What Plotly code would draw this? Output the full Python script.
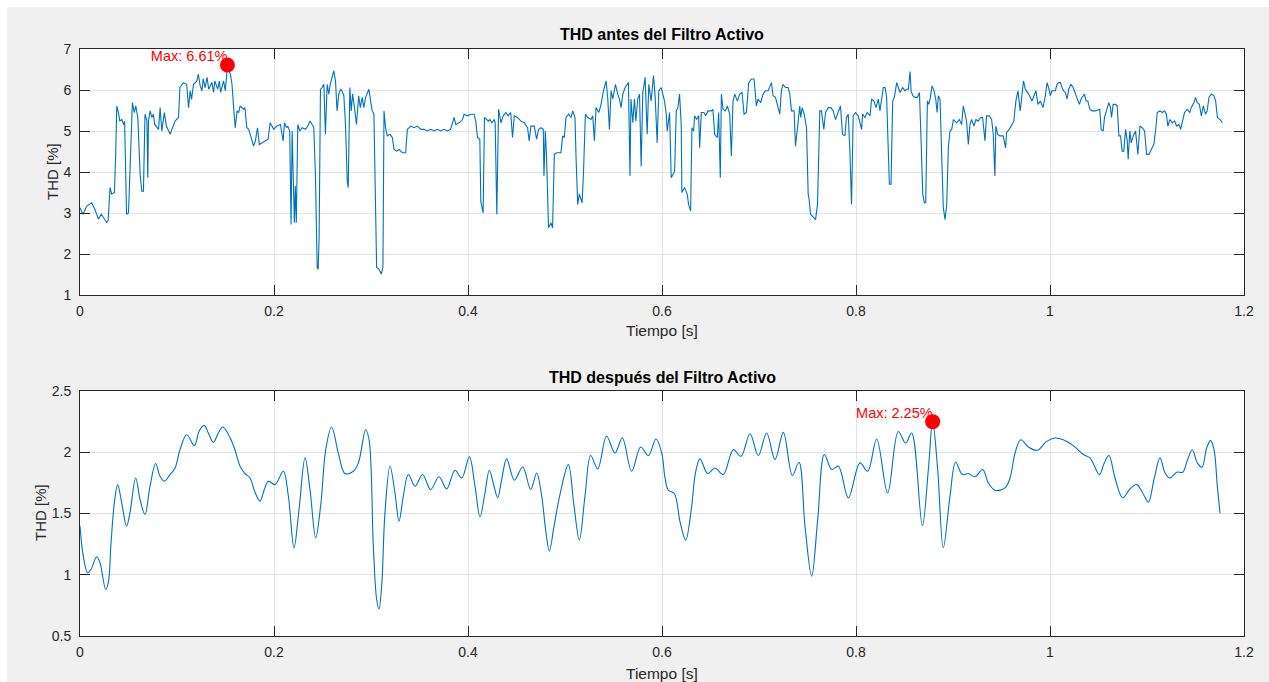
import numpy as np
import plotly.graph_objects as go
from plotly.subplots import make_subplots

# ---------------- data: THD before the active filter ----------------
t_antes = [
 0.000,0.003,0.007,0.012,0.0155,0.019,0.022,0.0275,0.029,0.031,0.0327,0.0355,0.0368,0.0379,0.0396,0.041,0.043,0.045,0.046,0.047,
 0.048,0.050,0.0517,0.054,0.056,0.0575,0.0596,0.062,0.0637,0.0654,0.067,0.069,0.0699,0.0706,0.0723,0.074,0.0757,0.077,0.081,0.0826,
 0.0843,0.087,0.089,0.091,0.093,0.0947,0.098,0.1016,0.103,0.1067,0.110,0.1119,0.1136,0.115,0.117,0.1205,0.122,0.1239,0.1257,0.127,
 0.129,0.131,0.1326,0.136,0.1377,0.139,0.142,0.1436,0.145,0.148,0.1498,0.152,0.1533,0.155,0.1567,0.1584,0.160,0.162,0.1636,0.165,
 0.1687,0.170,0.172,0.1739,0.1766,0.179,0.1808,0.183,0.1849,0.1877,0.191,0.1939,0.196,0.1997,
 0.203,0.2066,0.2094,0.2108,0.213,0.2142,0.2162,0.2176,0.2187,0.2197,0.221,0.222,0.223,0.2245,0.2266,0.229,0.2325,0.2349,0.237,0.2393,
 0.241,0.2427,0.2445,0.2455,0.2465,0.2479,0.2496,0.2514,0.253,0.2548,0.2565,0.258,0.260,0.2617,0.2634,0.265,0.2668,0.2686,0.270,0.272,
 0.2737,0.2755,0.2765,0.2782,0.2796,0.281,0.283,0.285,0.2873,0.289,0.2909,0.2926,0.2944,0.2978,0.2996,0.3013,0.303,0.3058,0.3082,0.3106,
 0.3123,0.3134,0.315,0.3168,0.3195,0.322,0.3237,0.3264,0.3289,0.3323,0.3357,0.3375,0.341,0.3444,0.3478,0.3513,0.3547,0.358,0.3616,0.365,
 0.3685,0.372,0.3753,0.3788,0.382,0.3857,0.3874,0.391,0.3943,0.396,0.3994,0.403,
 0.4063,0.408,0.4098,0.4122,0.4132,0.4156,0.417,0.4191,0.421,0.4225,0.4246,0.427,0.428,0.4297,0.4315,0.434,0.4363,0.439,0.4415,0.444,
 0.4459,0.4477,0.451,0.4545,0.458,0.4614,0.4631,0.4649,0.4683,0.4707,0.4728,0.4752,0.4776,0.4783,0.4797,0.481,0.483,0.4855,0.4872,0.489,
 0.4914,0.4958,0.4976,0.4993,0.501,0.5038,0.5062,0.508,0.5103,0.5114,0.5131,0.5148,0.5176,0.519,0.521,0.5234,0.5268,0.5286,0.5303,0.532,
 0.5348,0.5372,0.5396,0.5424,0.5441,0.5458,0.5475,0.5493,0.552,0.5544,0.5561,0.5578,0.5596,0.562,0.5654,0.567,0.568,0.5699,0.5716,0.573,
 0.575,0.5768,0.5785,0.5802,0.5826,0.5847,0.5864,0.5888,0.5912,0.593,0.595,0.5967,0.5992,0.6026,0.6044,
 0.6054,0.6078,0.6095,0.6116,0.613,0.6147,0.6164,0.6181,0.6198,0.6205,0.6233,0.626,0.6274,0.6295,0.6309,0.6326,0.6336,0.6357,0.6378,0.6388,
 0.6405,0.6432,0.645,0.6474,0.6508,0.6525,0.6543,0.657,0.6584,0.6601,0.6612,0.6629,0.6653,0.6674,0.6698,0.6715,0.6732,0.675,0.6777,0.680,
 0.6825,0.6846,0.687,0.6894,0.6921,0.6949,0.6973,0.699,0.7018,0.7042,0.7066,0.7094,0.711,0.7128,0.7145,0.717,0.7197,0.7214,0.7231,0.7248,
 0.7273,0.730,0.7317,0.7335,0.7362,0.7376,0.7397,0.742,0.743,0.7445,0.7466,0.749,0.7507,0.7517,0.7531,0.7559,0.7583,0.7603,0.7627,0.7644,
 0.7668,0.7686,0.7713,0.774,0.7765,0.7789,0.7816,0.784,0.7861,0.7885,0.7902,0.792,0.7937,0.7954,0.7971,0.7995,0.8023,0.8058,
 0.8068,0.8092,0.8116,0.8144,0.8161,0.8185,0.8206,0.823,0.8247,0.8264,0.8282,0.830,0.8316,0.8333,0.8344,0.8361,0.8378,0.8395,0.842,0.8437,
 0.8454,0.8481,0.8505,0.8523,0.854,0.8557,0.8568,0.8585,0.861,0.8633,0.8654,0.8671,0.8688,0.8705,0.8719,0.8736,0.875,0.8764,0.8784,0.8805,
 0.8822,0.8836,0.8849,0.8866,0.8883,0.890,0.8918,0.8935,0.8952,0.8969,0.8987,0.9004,0.902,0.9038,0.9065,0.9089,0.9106,0.9123,0.914,0.9158,
 0.9175,0.9192,0.9216,0.9237,0.926,0.9285,0.9305,0.933,0.9346,0.9374,0.9398,0.9415,0.9432,0.9442,0.946,0.9483,0.9518,0.9542,0.9552,0.958,
 0.960,0.9627,0.9648,0.967,0.9693,0.971,0.9727,0.9745,0.978,0.9814,0.9838,0.9855,0.9876,0.990,0.9928,0.9952,0.997,0.9986,1.0004,1.002,
 1.0055,1.0072,
 1.009,1.0107,1.0124,1.014,1.0158,1.0176,1.0193,1.0217,1.0238,1.0262,1.0286,1.0303,1.032,1.034,1.0355,1.0372,1.039,1.041,1.0434,1.0468,
 1.0503,1.0513,1.0527,1.0548,1.0562,1.0582,1.0606,1.0624,1.0634,1.0651,1.0675,1.0693,1.071,1.0727,1.0744,1.0761,1.0779,1.0796,1.0806,1.0823,
 1.0837,1.0858,1.0882,1.0906,1.0927,1.095,1.0975,1.0996,1.102,1.1044,1.107,1.109,1.1105,1.1133,1.1158,1.118,1.120,1.1215,1.1236,1.126,
 1.1284,1.1305,1.133,1.1346,1.1363,1.1387,1.1415,1.144,1.1456,1.1484,1.150,1.1518,1.154,1.156,1.158,1.1604,1.162,1.1639,1.1663,1.169,
 1.1708,1.1725,1.1753,1.1777]
thd_antes = [
 3.13,2.97,3.17,3.25,3.08,2.85,2.97,2.77,2.81,3.62,3.46,3.50,4.43,5.61,5.45,5.24,5.28,5.16,5.24,3.70,
 2.97,3.00,4.02,5.69,5.45,5.61,5.33,3.94,3.53,3.53,5.41,5.24,3.86,5.24,5.49,5.33,5.41,5.16,5.04,5.57,
 5.00,5.45,5.12,5.00,4.92,5.04,5.24,5.33,6.06,6.18,6.14,5.57,5.98,5.77,6.14,6.22,6.39,6.10,5.98,6.27,
 6.06,6.31,6.02,6.18,5.94,6.22,6.02,6.22,5.94,6.22,5.98,6.61,6.47,6.39,6.14,5.57,5.08,5.49,5.45,5.61,
 5.53,5.57,5.08,5.04,4.84,4.63,4.76,5.08,4.67,4.71,4.76,4.80,5.20,5.04,
 5.12,5.16,4.76,5.20,5.08,5.12,5.00,2.72,5.00,3.70,2.76,3.66,2.76,5.16,5.00,5.08,5.04,5.12,5.24,5.16,
 5.08,3.94,1.67,1.63,2.40,6.02,6.06,6.14,4.92,6.14,5.90,6.14,6.31,6.47,6.22,5.49,5.90,6.02,5.98,5.86,
 5.16,3.78,3.62,6.06,5.49,5.90,5.57,5.16,5.86,5.57,5.82,5.57,5.82,6.02,5.73,5.49,5.41,1.67,1.63,1.51,
 1.67,5.49,5.08,4.88,4.92,4.84,4.55,4.51,4.55,4.47,4.47,5.04,5.12,5.08,5.12,5.04,5.04,5.00,5.04,5.00,
 5.04,5.00,5.04,5.00,5.04,5.33,5.16,5.20,5.28,5.41,5.37,5.41,
 5.41,5.24,4.84,4.80,3.29,3.00,5.33,5.28,5.24,5.28,5.20,5.28,5.20,2.97,5.53,5.20,5.37,5.45,5.37,5.45,
 4.84,5.37,5.33,5.24,5.20,5.08,4.76,5.12,5.12,4.80,5.04,5.08,5.04,3.90,5.00,4.35,2.64,2.76,2.64,4.43,
 4.47,4.47,4.88,4.84,5.33,5.41,5.33,5.49,5.33,4.35,3.21,3.46,3.25,3.94,5.41,5.33,5.28,5.37,4.76,5.57,
 5.45,5.65,5.98,6.22,5.78,5.04,5.98,5.78,6.14,5.90,5.78,5.57,5.90,6.06,6.18,3.90,5.78,5.20,5.78,5.24,
 5.78,5.90,4.14,5.94,6.31,4.92,6.14,5.73,6.35,5.82,4.71,5.98,6.06,5.73,5.41,
 5.00,5.45,3.86,3.98,4.02,5.49,5.57,5.90,5.16,3.50,3.62,3.46,3.21,3.05,5.08,5.00,5.37,5.28,5.37,4.59,
 5.45,5.45,5.37,5.49,5.49,5.53,4.92,4.84,5.45,3.86,5.90,5.53,5.49,5.61,5.41,4.39,5.73,5.90,5.73,5.90,
 5.94,5.41,5.45,6.18,6.27,6.27,5.61,5.78,5.69,5.90,5.98,5.98,6.10,6.18,5.86,5.82,5.57,5.41,5.98,6.14,
 6.06,6.06,5.90,5.49,5.49,4.63,5.08,5.61,5.33,5.57,5.41,5.08,3.46,3.33,2.97,2.89,2.84,3.21,5.49,5.49,
 5.04,5.45,5.57,5.57,5.49,5.28,5.45,5.61,4.92,4.88,5.33,5.41,4.51,3.21,5.37,5.45,5.37,5.04,
 5.41,5.33,5.45,5.37,5.78,5.73,5.57,5.78,5.49,5.78,6.06,6.06,5.82,4.51,3.70,3.70,5.73,5.82,6.18,6.06,
 5.94,6.06,5.98,6.02,6.02,6.45,5.98,5.86,5.82,5.82,5.94,4.76,3.46,3.25,3.25,5.73,5.65,5.78,6.10,5.98,
 5.78,5.45,5.86,5.78,4.18,3.13,2.84,3.21,4.59,5.00,5.04,5.28,5.24,5.20,5.28,5.16,5.61,5.45,5.24,4.67,
 5.16,5.28,5.12,5.28,5.24,5.33,5.33,4.76,5.37,5.37,5.28,4.92,3.90,5.12,4.92,4.88,4.88,4.59,4.96,5.04,
 5.12,5.24,5.73,5.98,5.49,5.90,6.22,6.02,5.90,5.73,5.90,5.98,5.65,5.73,5.57,5.86,6.18,6.06,5.86,5.98,
 5.98,6.14,
 6.18,6.18,6.06,5.98,5.94,5.78,6.02,6.14,6.06,5.90,5.78,5.65,5.78,5.86,5.90,5.73,5.73,5.53,5.49,5.49,
 5.53,5.53,5.04,5.00,5.33,5.49,5.69,5.57,5.33,5.65,5.65,5.61,4.88,4.88,4.51,4.51,5.04,4.76,4.31,5.00,
 4.71,4.88,5.00,4.43,5.12,5.08,5.00,4.43,4.43,4.55,4.67,5.04,5.45,5.49,5.45,5.49,5.41,5.12,5.28,5.20,
 5.24,5.12,5.16,5.04,5.20,5.45,5.53,5.45,5.57,5.69,5.82,5.69,5.65,5.37,5.61,5.41,5.49,5.82,5.90,5.86,
 5.73,5.33,5.28,5.20]

# ---------------- data: THD after the active filter ----------------
t_despues = [
 0.000,0.0034,0.0079,0.0113,0.0172,0.0206,0.0265,0.0292,0.032,0.0354,0.0388,0.043,0.048,0.0515,0.0574,0.0619,0.067,0.0722,0.078,0.0825,
 0.087,0.0928,0.098,0.1031,0.110,0.118,0.1227,0.128,0.1323,0.1375,0.1426,0.1471,0.1522,0.1591,0.165,0.1701,0.1753,0.1804,0.1856,0.190,
 0.1942,0.201,0.2096,0.2148,0.2206,0.2258,0.232,0.2371,0.243,0.2484,0.2533,0.2594,0.2663,0.2732,0.2818,0.287,0.2945,0.298,
 0.3024,0.3058,0.3082,0.311,0.3144,0.3196,0.3247,0.3289,0.3333,0.3385,0.3454,0.3532,0.3615,0.3701,0.378,0.3866,0.3935,0.4014,0.4072,0.4124,
 0.4175,0.422,0.4268,0.4306,0.4347,0.4399,0.4478,0.4564,0.4646,0.4708,0.476,0.4804,0.4839,0.4887,0.4948,0.5034,0.5093,0.5148,0.5206,0.5265,
 0.5337,0.5429,0.5515,0.5591,0.5687,0.578,0.5859,0.5938,0.5997,0.6031,
 0.6065,0.6127,0.6186,0.6244,0.6299,0.6347,0.6392,0.6471,0.6546,0.6632,0.6735,0.6814,0.6907,0.6993,0.7079,0.7165,0.7251,0.7344,0.7412,0.7474,
 0.7543,0.7605,0.7674,0.775,0.7818,0.7921,0.8041,0.812,0.8213,0.8326,0.8436,0.8512,0.8574,0.8684,0.8746,0.879,0.8842,0.890,0.8969,0.9027,
 0.9096,
 0.9158,0.9227,0.9306,0.9364,0.9433,0.9536,0.9588,0.964,0.9698,0.9777,0.9869,0.9966,1.0052,1.0137,1.024,1.0344,1.0412,1.0509,1.0557,1.0608,
 1.067,1.0749,1.0825,1.0893,1.0955,1.1014,1.1072,1.1134,1.1186,1.1237,1.1306,1.1368,1.1416,1.1467,1.1519,1.1567,1.1615,1.1656,1.1691,1.1725,
 1.1753]
thd_despues = [
 1.397,1.152,1.016,1.043,1.147,1.098,0.880,0.935,1.261,1.587,1.736,1.587,1.397,1.505,1.790,1.614,1.492,1.723,1.908,1.804,
 1.764,1.818,1.872,2.021,2.143,2.054,2.170,2.219,2.157,2.081,2.157,2.206,2.157,2.035,1.886,1.826,1.790,1.674,1.601,1.696,
 1.764,1.736,1.845,1.641,1.220,1.533,1.954,1.696,1.302,1.587,2.021,2.206,1.994,1.826,1.845,1.913,2.184,2.102,
 1.234,0.800,0.720,0.907,1.505,1.886,1.669,1.437,1.641,1.818,1.723,1.818,1.696,1.800,1.701,1.853,1.790,1.962,1.723,1.473,
 1.669,1.853,1.723,1.628,1.777,1.946,1.772,1.880,1.696,1.831,1.641,1.342,1.193,1.397,1.655,1.899,1.560,1.283,1.641,1.973,
 1.864,2.130,1.994,2.116,1.845,2.043,1.973,2.108,1.994,1.790,
 1.690,1.663,1.432,1.283,1.514,1.840,1.946,1.826,1.872,1.818,2.021,1.967,2.151,1.973,2.157,1.940,2.162,1.810,1.918,1.397,
 0.989,1.450,1.981,1.859,1.886,1.628,1.913,1.845,2.108,1.669,2.170,2.075,2.157,1.402,1.859,2.250,1.859,1.220,1.641,1.918,
 1.818,
 1.826,1.800,1.859,1.750,1.690,1.709,1.790,1.994,2.102,2.043,2.016,2.089,2.116,2.102,2.054,1.981,1.954,1.818,1.908,1.973,
 1.790,1.628,1.701,1.736,1.669,1.593,1.777,1.954,1.831,1.790,1.837,1.837,1.935,2.021,1.913,1.878,2.035,2.097,2.021,1.723,
 1.500]

x_ticks = [0, 0.2, 0.4, 0.6, 0.8, 1.0, 1.2]
x_ticktext = ["0", "0.2", "0.4", "0.6", "0.8", "1", "1.2"]
y1_ticks = [1, 2, 3, 4, 5, 6, 7]
y2_ticks = [0.5, 1.0, 1.5, 2.0, 2.5]
y2_ticktext = ["0.5", "1", "1.5", "2", "2.5"]

titles = ["THD antes del Filtro Activo", "THD después del Filtro Activo"]
xlabel = "Tiempo [s]"
ylabel = "THD [%]"

LINE = "#0072BD"
AX = "#262626"
GRID = "#e3e3e3"
FONT = "Liberation Sans, Arial, Helvetica, sans-serif"

W, H = 1269, 682
ML, MR, MT, MB = 80, 25, 49, 46
PW, PH = W - ML - MR, H - MT - MB

def py2paper(py):
    return (H - MB - py) / PH

def px2paper(px):
    return (px - ML) / PW

fig = make_subplots(rows=2, cols=1)
fig.update_layout(
    xaxis=dict(domain=[0, 1]), xaxis2=dict(domain=[0, 1]),
    yaxis=dict(domain=[py2paper(295), 1]), yaxis2=dict(domain=[0, py2paper(391)]),
)

series = [(t_antes, thd_antes, 1, False), (t_despues, thd_despues, 2, True)]
for t, y, row, smooth in series:
    fig.add_trace(go.Scatter(x=t, y=y, mode="lines",
                             line=dict(color=LINE, width=1.1, shape="spline" if smooth else "linear",
                                       smoothing=1.0 if smooth else None),
                             showlegend=False, hoverinfo="skip"), row=row, col=1)
    i = int(np.argmax(y))
    tm, ym = t[i], y[i]
    fig.add_trace(go.Scatter(x=[tm], y=[ym], mode="text", text=[f"Max: {ym:.2f}%"],
                             textposition="top left",
                             textfont=dict(color="#ff0000", size=14.5, family=FONT),
                             showlegend=False, hoverinfo="skip", cliponaxis=False), row=row, col=1)
    fig.add_trace(go.Scatter(x=[tm], y=[ym], mode="markers",
                             marker=dict(color="#ff0000", size=15, line=dict(width=0)),
                             showlegend=False, hoverinfo="skip", cliponaxis=False), row=row, col=1)

axis_common = dict(showline=True, linecolor=AX, linewidth=1, mirror="ticks",
                   ticks="inside", ticklen=10, tickcolor=AX, tickwidth=1,
                   showgrid=True, gridcolor=GRID, gridwidth=1, zeroline=False,
                   tickfont=dict(family=FONT, size=14, color=AX))
for r in (1, 2):
    fig.update_xaxes(range=[0, 1.2], tickvals=x_ticks, ticktext=x_ticktext,
                     ticklabelstandoff=3, row=r, col=1, **axis_common)
fig.update_yaxes(range=[1, 7], tickvals=y1_ticks, ticklabelstandoff=5, row=1, col=1, **axis_common)
fig.update_yaxes(range=[0.5, 2.5], tickvals=y2_ticks, ticktext=y2_ticktext,
                 ticklabelstandoff=5, row=2, col=1, **axis_common)

ann = []
def add_text(text, px, py, size, color, angle=0):
    ann.append(dict(text=text, x=px2paper(px), y=py2paper(py), xref="paper", yref="paper",
                    xanchor="center", yanchor="middle", textangle=angle, showarrow=False,
                    font=dict(family=FONT, size=size, color=color)))

# subplot titles
add_text(f"<b>{titles[0]}</b>", 662, 35, 16, "#000000")
add_text(f"<b>{titles[1]}</b>", 662, 377, 16, "#000000")
# x labels
add_text(xlabel, 662, 330, 15.5, AX)
add_text(xlabel, 662, 673, 15.5, AX)
# y labels
add_text(ylabel, 52, 172, 15, AX, -90)
add_text(ylabel, 40, 513, 15, AX, -90)

shapes = [
    dict(type="rect", xref="paper", yref="paper", x0=px2paper(-5), x1=px2paper(7),
         y0=py2paper(H + 5), y1=py2paper(-5), fillcolor="white", line=dict(width=0), layer="below"),
    dict(type="rect", xref="paper", yref="paper", x0=px2paper(-5), x1=px2paper(W + 5),
         y0=py2paper(7), y1=py2paper(-5), fillcolor="white", line=dict(width=0), layer="below"),
]

fig.update_layout(
    width=W, height=H, autosize=False,
    margin=dict(l=ML, r=MR, t=MT, b=MB, autoexpand=False),
    paper_bgcolor="#f0f0f0", plot_bgcolor="#ffffff",
    font=dict(family=FONT, size=14, color=AX),
    annotations=ann, shapes=shapes,
)

fig.write_html("out.html")
